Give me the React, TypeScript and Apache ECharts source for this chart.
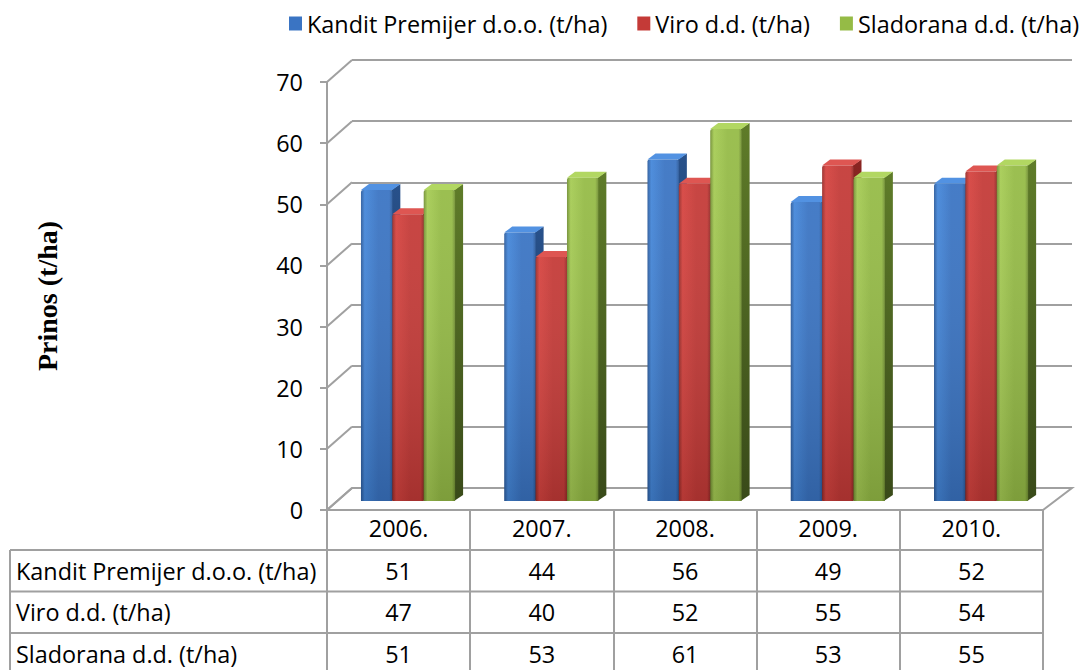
import React, { useEffect, useRef } from "react";
import * as echarts from "echarts";

const years = ["2006.", "2007.", "2008.", "2009.", "2010."];
const seriesNames = ["Kandit Premijer d.o.o. (t/ha)", "Viro d.d. (t/ha)", "Sladorana d.d. (t/ha)"];
const kandit = [51, 44, 56, 49, 52];
const viro = [47, 40, 52, 55, 54];
const sladorana = [51, 53, 61, 53, 55];
const yTicks = [0, 10, 20, 30, 40, 50, 60, 70];
const axisTitle = "Prinos (t/ha)";

const FONT = '"Open Sans", "Noto Sans", sans-serif';
const FS = 23.4;
const LINE = "#a0a0a0";

const palettes = [
  { light: "#4487da", mid: "#3a74c3", dark: "#2c5b9c", side: "#28518b", top: "#5292e2" },
  { light: "#d6433f", mid: "#c43a37", dark: "#972b28", side: "#8a2522", top: "#de5652" },
  { light: "#a6cc54", mid: "#95bb46", dark: "#718f33", side: "#5f7c29", top: "#b2d762" },
];

const DX = 8;
const DY = -6;

function make3dBar(si: number) {
  const pal = palettes[si];
  return (params: any, api: any) => {
    const cat = api.value(0);
    const val = api.value(1);
    const top = api.coord([cat, val]);
    const base = api.coord([cat, 0]);
    const band = api.size([1, 0])[0];
    const w = band * 0.219;
    const cx = top[0] + (si - 1) * w;
    const x0 = cx - w / 2;
    const x1 = cx + w / 2;
    const yT = top[1];
    const yB = base[1];
    return {
      type: "group",
      children: [
        {
          type: "polygon",
          shape: { points: [[x1 - 1, yT], [x1 + DX, yT + DY], [x1 + DX, yB + DY], [x1 - 1, yB]] },
          style: {
            fill: new echarts.graphic.LinearGradient(0, 0, 0, 1, [
              { offset: 0, color: pal.side },
              { offset: 1, color: echarts.color.lerp(0.4, [pal.side, "#000000"]) as string },
            ]),
          },
        },
        {
          type: "polygon",
          shape: { points: [[x0, yT], [x0 + DX, yT + DY], [x1 + DX, yT + DY], [x1, yT]] },
          style: { fill: pal.top },
        },
        {
          type: "rect",
          shape: { x: x0, y: yT, width: w, height: yB - yT, r: [2, 2, 0, 0] },
          style: {
            fill: new echarts.graphic.LinearGradient(0, 0, 1, 0, [
              { offset: 0, color: pal.dark },
              { offset: 0.12, color: pal.light },
              { offset: 0.55, color: pal.mid },
              { offset: 0.9, color: pal.mid },
              { offset: 1, color: pal.dark },
            ]),
          },
        },
        {
          type: "rect",
          shape: { x: x0, y: yT, width: w, height: yB - yT, r: [2, 2, 0, 0] },
          style: {
            fill: new echarts.graphic.LinearGradient(0, 0, 0, 1, [
              { offset: 0, color: "rgba(255,255,255,0.06)" },
              { offset: 1, color: "rgba(0,0,0,0.16)" },
            ]),
          },
        },
      ],
    };
  };
}

export default function App() {
  const ref = useRef<HTMLDivElement>(null);
  useEffect(() => {
    if (!ref.current) return;
    const chart = echarts.init(ref.current, null, { renderer: "svg" });
    const values = [kandit, viro, sladorana];
    const cells: number[][] = [];
    values.forEach((row, r) => row.forEach((v, c) => cells.push([c, r, v])));

    const rowTop = 550;
    const rowH = 41.5;
    const tableGraphics: any[] = [];
    for (let r = 0; r <= 3; r++) {
      tableGraphics.push({
        type: "line",
        shape: { x1: 10, y1: rowTop + r * rowH, x2: 1043, y2: rowTop + r * rowH },
        style: { stroke: LINE, lineWidth: 2 },
      });
    }
    tableGraphics.push({
      type: "line",
      shape: { x1: 10, y1: rowTop, x2: 10, y2: 680 },
      style: { stroke: LINE, lineWidth: 2 },
    });
    seriesNames.forEach((n, r) => {
      tableGraphics.push({
        type: "text",
        x: 16,
        y: rowTop + r * rowH + rowH / 2,
        style: { text: n, fontSize: FS, fontFamily: FONT, fill: "#000", verticalAlign: "middle", align: "left" },
      });
    });

    chart.setOption({
      animation: false,
      backgroundColor: "#fff",
      legend: {
        left: 284,
        top: 7,
        icon: "rect",
        itemWidth: 13,
        itemHeight: 14,
        itemGap: 30,
        textStyle: { fontSize: FS, fontFamily: FONT, color: "#000" },
        data: seriesNames,
      },
      graphic: tableGraphics,
      grid: [
        { left: 352, top: 60, width: 720, height: 428, outerBoundsMode: "none" },
        { left: 327, top: 82, width: 716, height: 428, outerBoundsMode: "none" },
        { left: 336.4, top: 74, width: 716.3, height: 427, outerBoundsMode: "none" },
      ],
      xAxis: [
        { gridIndex: 0, type: "category", data: years, show: false },
        {
          gridIndex: 1,
          type: "category",
          data: years,
          axisLine: { show: true, lineStyle: { color: LINE, width: 2 } },
          axisTick: { show: true, length: 170, lineStyle: { color: LINE, width: 2 } },
          axisLabel: { fontSize: FS, fontFamily: FONT, color: "#000", margin: 6 },
        },
        { gridIndex: 2, type: "category", data: years, show: false },
      ],
      yAxis: [
        {
          gridIndex: 0,
          type: "value",
          min: 0,
          max: 70,
          interval: 10,
          axisLine: { show: false },
          axisTick: { show: false },
          axisLabel: { show: false },
          splitLine: { show: true, lineStyle: { color: LINE, width: 2 } },
        },
        {
          gridIndex: 1,
          type: "value",
          min: 0,
          max: 70,
          interval: 10,
          name: axisTitle,
          nameLocation: "middle",
          nameRotate: 90,
          nameGap: 266,
          nameTextStyle: { fontFamily: '"Liberation Serif", serif', fontWeight: "bold", fontSize: 28, color: "#000" },
          axisLine: { show: true, lineStyle: { color: LINE, width: 2 } },
          axisTick: { show: true, length: 7, lineStyle: { color: LINE, width: 2 } },
          axisLabel: { fontSize: FS, fontFamily: FONT, color: "#000", margin: 24 },
          splitLine: { show: false },
        },
        { gridIndex: 2, type: "value", min: 0, max: 70, interval: 10, show: false, splitLine: { show: false } },
      ],
      series: [
        {
          type: "custom",
          name: "frame",
          xAxisIndex: 0,
          yAxisIndex: 0,
          silent: true,
          data: yTicks.map((v) => [0, v]),
          renderItem: (params: any, api: any) => {
            const v = api.value(1);
            const p = api.coord([0, v]);
            const cs = params.coordSys;
            const left = cs.x;
            const right = cs.x + cs.width;
            const children: any[] = [];
            if (v === 0) {
              children.push({
                type: "polygon",
                shape: { points: [[left, p[1]], [right, p[1]], [right - 29, p[1] + 22], [left - 25, p[1] + 22]] },
                style: { fill: "#ffffff", stroke: LINE, lineWidth: 2 },
              });
            }
            children.push({
              type: "line",
              shape: { x1: left, y1: p[1], x2: left - 25, y2: p[1] + 22 },
              style: { stroke: LINE, lineWidth: 2 },
            });
            return { type: "group", children };
          },
        },
        ...[kandit, viro, sladorana].map((arr, si) => ({
          type: "custom",
          name: seriesNames[si],
          xAxisIndex: 2,
          yAxisIndex: 2,
          itemStyle: { color: palettes[si].mid },
          data: arr.map((v, i) => [i, v]),
          renderItem: make3dBar(si),
        })),
        {
          type: "custom",
          name: "table",
          xAxisIndex: 1,
          yAxisIndex: 1,
          silent: true,
          data: cells,
          renderItem: (params: any, api: any) => {
            const c = api.value(0);
            const r = api.value(1);
            const v = api.value(2);
            const p = api.coord([c, 0]);
            return {
              type: "text",
              x: p[0],
              y: rowTop + r * rowH + rowH / 2,
              style: { text: String(v), fontSize: FS, fontFamily: FONT, fill: "#000", align: "center", verticalAlign: "middle" },
            };
          },
        },
      ],
    });
    return () => chart.dispose();
  }, []);
  return <div ref={ref} style={{ width: 1086, height: 670, position: "absolute", left: 0, top: 0 }} />;
}
